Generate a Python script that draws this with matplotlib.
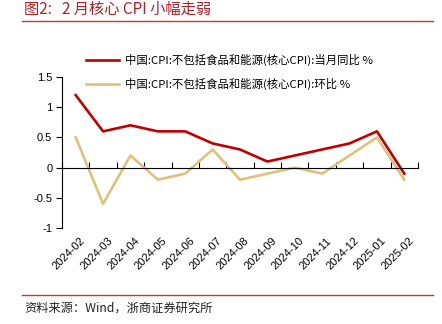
import matplotlib
matplotlib.use("Agg")
import matplotlib.pyplot as plt
from matplotlib.lines import Line2D
import numpy as np

plt.rcParams['font.family'] = ['Noto Sans CJK SC', 'DejaVu Sans']

months = ["2024-02", "2024-03", "2024-04", "2024-05", "2024-06", "2024-07",
          "2024-08", "2024-09", "2024-10", "2024-11", "2024-12", "2025-01", "2025-02"]
core_yoy = [1.2, 0.6, 0.7, 0.6, 0.6, 0.4, 0.3, 0.1, 0.2, 0.3, 0.4, 0.6, -0.1]
core_mom = [0.5, -0.6, 0.2, -0.2, -0.1, 0.3, -0.2, -0.1, 0.0, -0.1, 0.2, 0.5, -0.2]
yoy_label = "中国:CPI:不包括食品和能源(核心CPI):当月同比 %"
mom_label = "中国:CPI:不包括食品和能源(核心CPI):环比 %"

red = "#C00000"
tan = "#DCC27A"

W, H = 442, 324
fig = plt.figure(figsize=(W / 100, H / 100), dpi=100)
ax = fig.add_axes([62 / W, 1 - 228 / H, 356 / W, 151 / H])

x = np.arange(len(months))
ax.plot(x, core_yoy, color=red, lw=1.9, label=yoy_label)
ax.plot(x, core_mom, color=tan, lw=1.9, label=mom_label)

ax.set_xlim(-0.5, len(months) - 0.5)
ax.set_ylim(-1, 1.5)
ax.set_yticks([-1, -0.5, 0, 0.5, 1, 1.5])
ax.set_yticklabels(["-1", "-0.5", "0", "0.5", "1", "1.5"], family="Liberation Sans")
ax.tick_params(axis="y", direction="out", length=4, width=0.8, labelsize=8, pad=3)

# x axis sits on zero, with ticks at the category boundaries
ax.spines["top"].set_visible(False)
ax.spines["right"].set_visible(False)
ax.spines["bottom"].set_position(("data", 0))
ax.spines["left"].set_linewidth(0.8)
ax.spines["bottom"].set_linewidth(0.8)
ax.set_xticks(np.arange(len(months) + 1) - 0.5)
ax.set_xticklabels([])
ax.tick_params(axis="x", direction="in", length=4, width=0.8)

trans = ax.get_xaxis_transform()
for i, m in enumerate(months):
    ax.text(i + 0.15, -0.05, m, transform=trans, rotation=45, ha="right", va="top",
            rotation_mode="anchor", fontsize=8, family="Liberation Sans")

handles = [Line2D([], [], color=red, lw=1.9), Line2D([], [], color=tan, lw=1.9)]
fig.legend(handles, [yoy_label, mom_label], loc="upper left",
           bbox_to_anchor=(86 / W, 1 - 54 / H), frameon=False, fontsize=8.2,
           handlelength=2.9, handletextpad=0.5, labelspacing=1.0, borderpad=0,
           borderaxespad=0)

# header and footer
fig.text(24 / W, 1 - 9 / H, "图2:   2 月核心 CPI 小幅走弱", color="#B0202A",
         fontsize=11, va="center", ha="left")
fig.add_artist(Line2D([22 / W, 433 / W], [1 - 21 / H, 1 - 21 / H], color="#C0393B", lw=1))
fig.add_artist(Line2D([22 / W, 433 / W], [1 - 295 / H, 1 - 295 / H], color="#C0393B", lw=1))
fig.text(24 / W, 1 - 308 / H, "资料来源：Wind，浙商证券研究所", color="#222222",
         fontsize=8.8, va="center", ha="left")

fig.savefig("out.png", dpi=100)
